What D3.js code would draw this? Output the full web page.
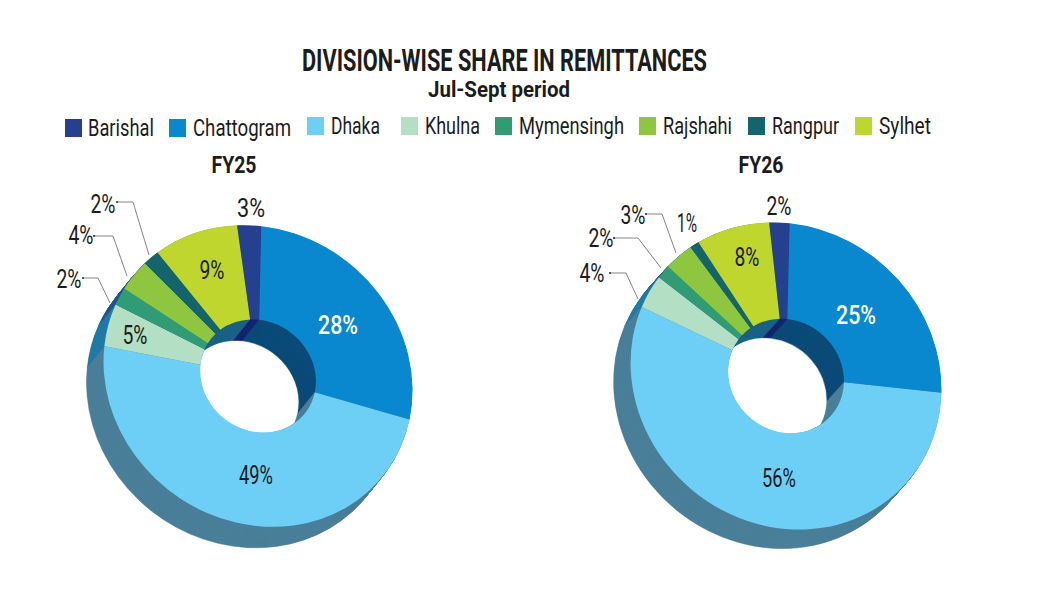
<!DOCTYPE html>
<html><head><meta charset="utf-8">
<script src="https://cdn.jsdelivr.net/npm/d3@7"></script>
<style>html,body{margin:0;background:#fff}svg{display:block}text{font-family:Roboto,"Noto Sans",sans-serif;fill:#1c1c1c}</style>
</head><body><svg id="c" width="1058" height="596"></svg>
<script>
const divisions = ["Barishal","Chattogram","Dhaka","Khulna","Mymensingh","Rajshahi","Rangpur","Sylhet"];
const topColors = ["#24408f","#0a88cf","#6dcff6","#b3dfc4","#2f9c76","#8ec73f","#14646c","#bfd62f"];
const wallColors = ["#14246e","#0b4a78","#4a7f99","#1f7ba6","#24538f","#1a6285","#1a6285","#1a6285"];
// shares in percent; the printed labels are these rounded
const fy25Values = [2.5,27.8,48.5,4.7,2.0,3.6,1.8,9.1];
const fy26Values = [2.1,25.0,55.7,3.7,1.5,3.2,1.0,7.8];

const legendLayout = [[65,119,88,66],[169,119,193,98],[307,117,331,49],[401,117,425,55],[495,117,519,105],[639,117,663,69],[748,117,772,67],[855,117,879,52]];
const charts = [
 {name:"FY25",values:fy25Values,cx:258,cy:376,major:160,minor:145,tilt:38,start:-5.1,dx:-17,dy:21,headX:234,headW:45,
  text:[[251,208,28,"#1c1c1c"],[338,325,40,"#fff"],[256,475,34,"#1c1c1c"],[135,335,25,"#1c1c1c"],[69,279,25,"#1c1c1c"],[81,235,25,"#1c1c1c"],[103,204,25,"#1c1c1c"],[212,270,25,"#1c1c1c"]],
  leaders:[null,null,null,null,[[83,278],[98,278],[110,303]],[[94,236],[113,236],[127,276]],[[117,202],[133,202],[149,255]],null]},
 {name:"FY26",values:fy26Values,cx:786,cy:376,major:161,minor:147.7,tilt:41,start:-3.8,dx:-17,dy:19,headX:761,headW:45,
  text:[[779,206,25,"#1c1c1c"],[856,315,40,"#fff"],[779,478,34,"#1c1c1c"],[592,273,25,"#1c1c1c"],[601,238,25,"#1c1c1c"],[633,215,25,"#1c1c1c"],[687,223,20,"#1c1c1c"],[747,257,25,"#1c1c1c"]],
  leaders:[null,null,null,[[610,273],[626,273],[638,299]],[[614,238],[638,238],[661,268]],[[646,214],[662,214],[676,253]],null,null]}
];

const svg = d3.select("#c");
function label(x,y,str,size,width,weight,fill){
  return svg.append("text").attr("x",x).attr("y",y).attr("text-anchor","middle").attr("dominant-baseline","central")
    .attr("font-size",size).attr("font-weight",weight).style("fill",fill||"#1c1c1c")
    .attr("textLength",width).attr("lengthAdjust","spacingAndGlyphs").text(str);
}
label(504.5,60,"DIVISION-WISE SHARE IN REMITTANCES",31,405,700);
label(499,89,"Jul-Sept period",22,142,700);

divisions.forEach((d,i)=>{
  const [sx,sy,tx,tw]=legendLayout[i];
  svg.append("rect").attr("x",sx).attr("y",sy).attr("width",17).attr("height",18).attr("fill",topColors[i]);
  svg.append("text").attr("x",tx).attr("y",sy+17).attr("font-size",24).attr("font-weight",400)
    .attr("textLength",tw).attr("lengthAdjust","spacingAndGlyphs").text(d);
});

const steps = d3.range(28,-1,-1);
charts.forEach(c=>{
  svg.append("text").attr("x",c.headX).attr("y",173).attr("text-anchor","middle").attr("font-size",24).attr("font-weight",700)
    .attr("textLength",c.headW).attr("lengthAdjust","spacingAndGlyphs").text(c.name);
  const pie = d3.pie().sort(null).value(d=>d)
    .startAngle(c.start*Math.PI/180).endAngle((c.start+360)*Math.PI/180);
  const arcs = pie(c.values);
  const arc = d3.arc().innerRadius(60).outerRadius(c.major);
  const t = d3.scaleLinear().domain([0,28]);
  const xs = t.copy().range([0,c.dx]), ys = t.copy().range([0,c.dy]);
  steps.forEach(s=>{
    const g = svg.append("g").attr("transform",
      `translate(${c.cx+xs(s)},${c.cy+ys(s)}) rotate(${c.tilt}) scale(1,${c.minor/c.major}) rotate(${-c.tilt})`);
    g.selectAll("path").data(arcs).join("path").attr("d",arc)
      .attr("fill",(d,i)=>s===0?topColors[i]:wallColors[i])
      .attr("stroke",(d,i)=>s===0?"none":wallColors[i]).attr("stroke-width",0.5);
  });
  c.leaders.forEach(l=>{
    if(!l) return;
    svg.append("path").attr("d",d3.line()(l)).attr("fill","none").attr("stroke","#666").attr("stroke-width",0.8);
    svg.append("circle").attr("cx",l[0][0]).attr("cy",l[0][1]).attr("r",1.1).attr("fill","#333");
  });
  c.values.forEach((v,i)=>{
    const [x,y,w,col]=c.text[i];
    label(x,y,Math.round(v)+"%",i===1?26:25,w,i===1?500:400,col);
  });
});
</script></body></html>
